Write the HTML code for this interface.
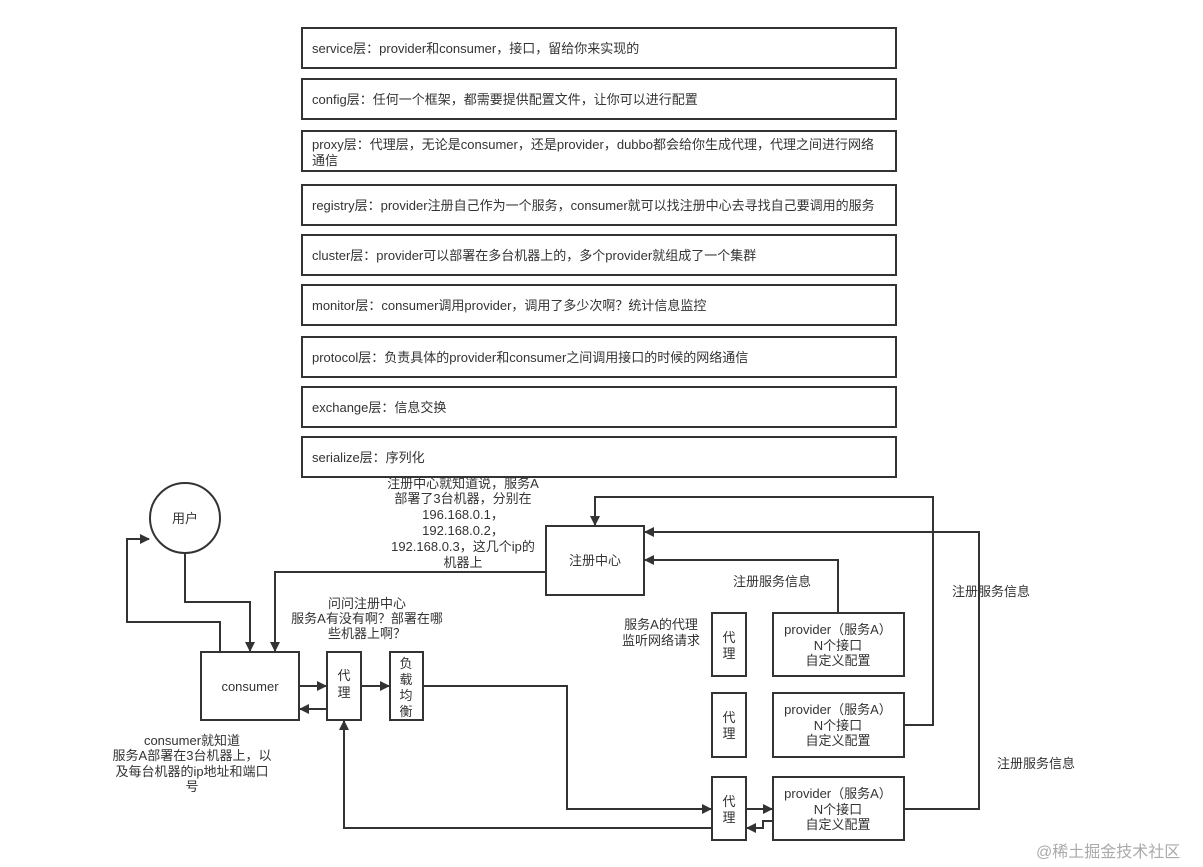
<!DOCTYPE html>
<html><head><meta charset="utf-8"><style>
html,body{margin:0;padding:0;background:#fff;width:1203px;height:867px;overflow:hidden}
svg text{font-family:"Liberation Sans","Noto Sans CJK SC",sans-serif;font-size:13px;fill:#333}
</style></head><body>
<svg width="1203" height="867" viewBox="0 0 1203 867" xmlns="http://www.w3.org/2000/svg">
<defs><marker id="a" markerWidth="10" markerHeight="10" refX="9" refY="5" orient="auto" markerUnits="userSpaceOnUse"><path d="M0,0 L10,5 L0,10 z" fill="#333"/></marker></defs>
<g fill="none" stroke="#333" stroke-width="2">
<rect x="302" y="28" width="594" height="40"/>
<rect x="302" y="79" width="594" height="40"/>
<rect x="302" y="131" width="594" height="40"/>
<rect x="302" y="185" width="594" height="40"/>
<rect x="302" y="235" width="594" height="40"/>
<rect x="302" y="285" width="594" height="40"/>
<rect x="302" y="337" width="594" height="40"/>
<rect x="302" y="387" width="594" height="40"/>
<rect x="302" y="437" width="594" height="40"/>
<circle cx="185" cy="518" r="35"/>
<rect x="201" y="652" width="98" height="68"/>
<rect x="327" y="652" width="34" height="68"/>
<rect x="390" y="652" width="33" height="68"/>
<rect x="546" y="526" width="98" height="69"/>
<rect x="712" y="613" width="34" height="63"/>
<rect x="712" y="693" width="34" height="64"/>
<rect x="712" y="777" width="34" height="63"/>
<rect x="773" y="613" width="131" height="63"/>
<rect x="773" y="693" width="131" height="64"/>
<rect x="773" y="777" width="131" height="63"/>
<polyline points="185,553 185,602 250,602 250,651" marker-end="url(#a)"/>
<polyline points="220,652 220,622 127,622 127,539 149,539" marker-end="url(#a)"/>
<polyline points="546,572 275,572 275,651" marker-end="url(#a)"/>
<line x1="299" y1="686" x2="326" y2="686" marker-end="url(#a)"/>
<line x1="327" y1="709" x2="300" y2="709" marker-end="url(#a)"/>
<line x1="361" y1="686" x2="389" y2="686" marker-end="url(#a)"/>
<polyline points="423,686 567,686 567,809 711,809" marker-end="url(#a)"/>
<polyline points="712,828 344,828 344,721" marker-end="url(#a)"/>
<polyline points="904,725 933,725 933,497 595,497 595,525" marker-end="url(#a)"/>
<polyline points="904,809 979,809 979,532 645,532" marker-end="url(#a)"/>
<polyline points="838,613 838,560 645,560" marker-end="url(#a)"/>
<line x1="746" y1="809" x2="772" y2="809" marker-end="url(#a)"/>
<polyline points="773,821 763,821 763,828 747,828" marker-end="url(#a)"/>
</g>
<text x="312" y="53">service层：provider和consumer，接口，留给你来实现的</text>
<text x="312" y="104">config层：任何一个框架，都需要提供配置文件，让你可以进行配置</text>
<text x="312" y="149">proxy层：代理层，无论是consumer，还是provider，dubbo都会给你生成代理，代理之间进行网络</text>
<text x="312" y="165">通信</text>
<text x="312" y="210">registry层：provider注册自己作为一个服务，consumer就可以找注册中心去寻找自己要调用的服务</text>
<text x="312" y="260">cluster层：provider可以部署在多台机器上的，多个provider就组成了一个集群</text>
<text x="312" y="310">monitor层：consumer调用provider，调用了多少次啊？统计信息监控</text>
<text x="312" y="362">protocol层：负责具体的provider和consumer之间调用接口的时候的网络通信</text>
<text x="312" y="412">exchange层：信息交换</text>
<text x="312" y="462">serialize层：序列化</text>
<g text-anchor="middle">
<text x="185" y="523">用户</text>
<text x="250" y="691">consumer</text>
<text x="344" y="680">代</text><text x="344" y="697">理</text>
<text x="406" y="668">负</text><text x="406" y="684">载</text><text x="406" y="700">均</text><text x="406" y="716">衡</text>
<text x="595" y="565">注册中心</text>
<text x="729" y="642">代</text><text x="729" y="658">理</text>
<text x="729" y="722">代</text><text x="729" y="738">理</text>
<text x="729" y="806">代</text><text x="729" y="822">理</text>
<text x="838" y="634">provider（服务A）</text><text x="838" y="650">N个接口</text><text x="838" y="665">自定义配置</text>
<text x="838" y="714">provider（服务A）</text><text x="838" y="730">N个接口</text><text x="838" y="745">自定义配置</text>
<text x="838" y="798">provider（服务A）</text><text x="838" y="814">N个接口</text><text x="838" y="829">自定义配置</text>
<text x="463" y="488">注册中心就知道说，服务A</text>
<text x="463" y="503">部署了3台机器，分别在</text>
<text x="463" y="519">196.168.0.1，</text>
<text x="463" y="535">192.168.0.2，</text>
<text x="463" y="551">192.168.0.3，这几个ip的</text>
<text x="463" y="567">机器上</text>
<text x="367" y="608">问问注册中心</text>
<text x="367" y="623">服务A有没有啊？部署在哪</text>
<text x="367" y="638">些机器上啊？</text>
<text x="192" y="745">consumer就知道</text>
<text x="192" y="760">服务A部署在3台机器上，以</text>
<text x="192" y="776">及每台机器的ip地址和端口</text>
<text x="192" y="791">号</text>
<text x="772" y="586">注册服务信息</text>
<text x="661" y="629">服务A的代理</text>
<text x="661" y="645">监听网络请求</text>
<text x="991" y="596">注册服务信息</text>
<text x="1036" y="768">注册服务信息</text>
</g>
<text x="1036" y="857" style="font-size:16px;fill:#aaa">@稀土掘金技术社区</text>
</svg>
</body></html>
